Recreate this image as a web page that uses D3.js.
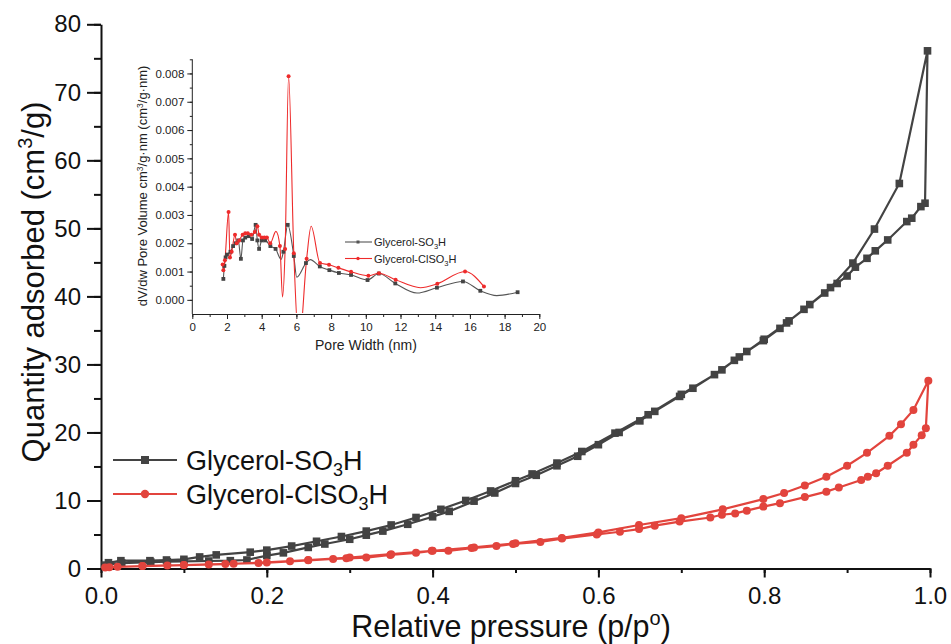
<!DOCTYPE html>
<html><head><meta charset="utf-8">
<script src="https://cdn.jsdelivr.net/npm/d3@7"></script>
<style>body{margin:0;background:#fff;} svg{display:block;font-family:"Liberation Sans",Arial,sans-serif;}</style>
</head><body>
<svg id="c" width="951" height="644"></svg>
<script>
// ---------- Main isotherm data ----------
const seriesNames = ["Glycerol-SO3H", "Glycerol-ClSO3H"];
const xTicksMain = [0.0, 0.2, 0.4, 0.6, 0.8, 1.0];
const yTicksMain = [0, 10, 20, 30, 40, 50, 60, 70, 80];

// Glycerol-SO3H: adsorption branch then desorption branch (p/p0, cm3/g)
const so3hP = [0.005,0.025,0.06,0.08,0.10,0.13,0.156,0.176,0.20,0.22,0.25,0.27,0.30,0.32,0.34,0.37,0.40,0.42,0.45,0.475,0.50,0.525,0.55,0.575,0.60,0.625,0.65,0.668,0.698,0.714,0.749,0.764,0.779,0.799,0.819,0.830,0.848,0.873,0.888,0.900,0.910,0.924,0.934,0.949,0.972,0.978,0.989,0.994,
  0.997,0.963,0.933,0.907,0.880,0.855,0.827,0.800,0.770,0.740,0.700,0.660,0.620,0.580,0.550,0.520,0.500,0.470,0.440,0.410,0.380,0.350,0.320,0.290,0.260,0.230,0.200,0.180,0.139,0.119,0.100,0.079,0.059,0.024,0.009];
const so3hQ = [0.5,0.8,0.95,1.0,1.05,1.1,1.15,1.25,1.9,2.3,3.1,3.6,4.3,4.9,5.5,6.5,7.6,8.4,9.9,11.1,12.5,13.7,15.1,16.5,18.2,20.0,21.7,23.1,25.3,26.5,29.2,30.6,31.9,33.5,35.3,36.4,38.1,40.5,41.9,43.0,44.3,45.6,46.7,48.3,51.0,51.5,53.2,53.7,
  76.1,56.6,49.9,44.9,41.3,38.8,36.1,33.7,31.1,28.5,25.6,22.6,19.9,17.2,15.5,13.9,12.9,11.4,10.0,8.7,7.5,6.4,5.5,4.7,4.0,3.3,2.7,2.4,2.0,1.7,1.35,1.25,1.15,1.15,0.85];

// Glycerol-ClSO3H
const clso3hP = [0.005,0.02,0.05,0.08,0.10,0.13,0.16,0.19,0.228,0.25,0.28,0.296,0.32,0.349,0.38,0.399,0.419,0.447,0.477,0.497,0.53,0.556,0.598,0.626,0.649,0.668,0.698,0.735,0.749,0.765,0.779,0.799,0.819,0.849,0.875,0.890,0.917,0.925,0.935,0.949,0.972,0.980,0.990,0.995,
  0.998,0.980,0.965,0.951,0.924,0.900,0.875,0.849,0.824,0.799,0.750,0.700,0.649,0.600,0.556,0.500,0.450,0.400,0.350,0.300,0.250,0.200,0.150,0.100,0.050,0.010];
const clso3hQ = [0.15,0.25,0.35,0.45,0.5,0.6,0.7,0.8,1.05,1.2,1.4,1.5,1.6,2.0,2.3,2.6,2.6,3.0,3.3,3.6,3.9,4.4,5.0,5.4,5.8,6.3,6.9,7.5,7.9,8.1,8.5,9.1,9.6,10.5,11.3,11.9,13.0,13.5,14.0,15.1,17.0,18.2,19.6,20.6,
  27.6,23.3,21.2,19.5,17.0,15.1,13.5,12.2,11.1,10.2,8.7,7.4,6.4,5.3,4.5,3.7,3.1,2.6,2.1,1.6,1.25,0.9,0.65,0.5,0.35,0.2];

// ---------- Inset pore-size distribution data ----------
const insetXTicks = [0,2,4,6,8,10,12,14,16,18,20];
const insetYTicks = [0.000,0.001,0.002,0.003,0.004,0.005,0.006,0.007,0.008];
// measured points (markers)
const psdSo3hW = [1.79,1.85,1.92,2.0,2.2,2.35,2.5,2.65,2.8,2.92,3.05,3.25,3.45,3.65,3.75,3.85,4.0,4.2,4.5,4.8,5.25,5.5,5.85,6.55,7.35,7.9,8.45,9.15,10.1,10.75,11.7,14.1,15.6,16.6,18.75];
const psdSo3hV = [0.00074,0.0012,0.0015,0.0016,0.0017,0.0019,0.0020,0.0021,0.00145,0.0021,0.0022,0.00225,0.00215,0.00265,0.0021,0.0018,0.0021,0.0021,0.0019,0.0018,0.0017,0.00265,0.00155,0.0013,0.00118,0.00105,0.00095,0.00088,0.0007,0.00093,0.00058,0.00043,0.00065,0.00032,0.00027];
const psdClW = [1.75,1.79,1.88,2.09,2.17,2.27,2.46,2.56,2.7,2.9,3.05,3.2,3.4,3.6,3.75,3.85,4.0,4.15,4.3,4.49,5.05,5.35,5.55,5.85,6.59,7.36,7.88,8.42,9.15,10.15,10.76,11.72,14.12,15.72,16.81];
const psdClV = [0.00125,0.00105,0.0014,0.0031,0.0015,0.0017,0.0023,0.0020,0.0021,0.0023,0.00235,0.00235,0.0023,0.0024,0.0026,0.0023,0.0022,0.0022,0.0022,0.0020,0.0019,0.0018,0.0079,0.00165,0.00145,0.0013,0.00124,0.00113,0.00099,0.00085,0.00094,0.00071,0.00057,0.0010,0.00047];
// turning points of the smoothed curves between markers
const psdSo3hTurnW = [5.12, 6.02, 6.8, 12.95, 17.55];
const psdSo3hTurnV = [0.00143, 0.0008, 0.00142, 0.00024, 0.00015];
const psdClTurnW = [4.82, 5.2, 6.15, 6.85, 13.15];
const psdClTurnV = [0.00242, 0.0001, -0.0016, 0.0026, 0.00043];

const colBlack = "#434343", colRed = "#e2443d";
const svg = d3.select("#c");
const FONT = "Liberation Sans, Arial, sans-serif";

// ===== Main chart =====
const x = d3.scaleLinear().domain([0,1]).range([101,930]);
const y = d3.scaleLinear().domain([0,80]).range([568.5,24.3]);

svg.append("g").attr("transform","translate(0,568.5)")
  .call(d3.axisBottom(x).tickValues(d3.range(0,1.0001,0.1)).tickSize(4.5).tickFormat(""))
  .call(g=>g.select(".domain").remove());
svg.append("g").attr("transform","translate(101,0)")
  .call(d3.axisLeft(y).tickValues(d3.range(0,80.1,5)).tickSize(7).tickFormat(""))
  .call(g=>g.select(".domain").remove());
const xa = svg.append("g").attr("transform","translate(0,568.5)")
  .call(d3.axisBottom(x).tickValues(xTicksMain).tickSize(9).tickSizeOuter(0).tickPadding(9).tickFormat(d3.format(".1f")));
const ya = svg.append("g").attr("transform","translate(101,0)")
  .call(d3.axisLeft(y).tickValues(yTicksMain).tickSize(14).tickSizeOuter(0).tickPadding(6));
[xa,ya].forEach(a=>{
  a.selectAll("path,line").attr("stroke","#111").attr("stroke-width",2);
  a.selectAll("text").attr("fill","#111").attr("font-family",FONT);
});
xa.selectAll("text").attr("font-size",24);
ya.selectAll("text").attr("font-size",24);
svg.selectAll("g.tick line").attr("stroke","#111").attr("stroke-width",2);

const lineMain = d3.line().x(d=>x(d[0])).y(d=>y(d[1]));
const s1 = so3hP.map((p,i)=>[p,so3hQ[i]]);
const s2 = clso3hP.map((p,i)=>[p,clso3hQ[i]]);

svg.append("path").datum(s1).attr("d",lineMain).attr("fill","none").attr("stroke",colBlack).attr("stroke-width",2.2);
svg.append("g").selectAll("rect").data(s1).join("rect")
  .attr("x",d=>x(d[0])-3.8).attr("y",d=>y(d[1])-3.8).attr("width",7.6).attr("height",7.6).attr("fill",colBlack);
svg.append("path").datum(s2).attr("d",lineMain).attr("fill","none").attr("stroke",colRed).attr("stroke-width",2.2);
svg.append("g").selectAll("circle").data(s2).join("circle")
  .attr("cx",d=>x(d[0])).attr("cy",d=>y(d[1])).attr("r",4).attr("fill",colRed);

// axis titles
const yt = svg.append("text").attr("transform","translate(44,282) rotate(-90)").attr("text-anchor","middle")
  .attr("font-size",31).attr("fill","#111");
yt.append("tspan").text("Quantity adsorbed (cm");
yt.append("tspan").text("3").attr("font-size",20).attr("dy",-12);
yt.append("tspan").text("/g)").attr("dy",12);
const xt = svg.append("text").attr("x",511).attr("y",637).attr("text-anchor","middle").attr("font-size",30.5).attr("fill","#111");
xt.append("tspan").text("Relative pressure (p/p");
xt.append("tspan").text("o").attr("font-size",20).attr("dy",-12);
xt.append("tspan").text(")").attr("dy",12);

// legend
const leg = [{name:seriesNames[0],c:colBlack,sym:"sq",y:460},{name:seriesNames[1],c:colRed,sym:"ci",y:494}];
leg.forEach(l=>{
  svg.append("line").attr("x1",113).attr("x2",177).attr("y1",l.y).attr("y2",l.y).attr("stroke",l.c).attr("stroke-width",2.2);
  if(l.sym==="sq") svg.append("rect").attr("x",141).attr("y",l.y-4).attr("width",8).attr("height",8).attr("fill",l.c);
  else svg.append("circle").attr("cx",145).attr("cy",l.y).attr("r",4.2).attr("fill",l.c);
  const t = svg.append("text").attr("x",186).attr("y",l.y+10).attr("font-size",27).attr("fill","#111");
  t.append("tspan").text(l.name.replace("3H",""));
  t.append("tspan").text("3").attr("font-size",18).attr("dy",6);
  t.append("tspan").text("H").attr("dy",-6);
});

// ===== Inset =====
const ix = d3.scaleLinear().domain([0,20]).range([192.3,539.3]);
const iy = d3.scaleLinear().domain([-0.0005,0.0085]).range([314,59.3]);
const inset = svg.append("g");
inset.append("clipPath").attr("id","ic").append("rect").attr("x",192.3).attr("y",40).attr("width",360).attr("height",273);
inset.append("g").attr("transform","translate(0,314)")
  .call(d3.axisBottom(ix).tickValues(d3.range(0,20.01,1)).tickSize(3).tickFormat(""))
  .call(g=>g.select(".domain").remove());
inset.append("g").attr("transform","translate(192.3,0)")
  .call(d3.axisLeft(iy).tickValues(d3.range(0,0.00851,0.0005)).tickSize(2.5).tickFormat(""))
  .call(g=>g.select(".domain").remove());
const ixa = inset.append("g").attr("transform","translate(0,314)")
  .call(d3.axisBottom(ix).tickValues(insetXTicks).tickSize(5).tickSizeOuter(0).tickPadding(4));
const iya = inset.append("g").attr("transform","translate(192.3,0)")
  .call(d3.axisLeft(iy).tickValues(insetYTicks).tickSize(5).tickSizeOuter(0).tickPadding(3).tickFormat(d3.format(".3f")));
iya.select(".domain").attr("d","M-0,314V59.3");
[ixa,iya].forEach(a=>{
  a.selectAll("path,line").attr("stroke","#222").attr("stroke-width",1);
  a.selectAll("text").attr("font-size",11.5).attr("fill","#222").attr("font-family",FONT);
});
inset.selectAll("g.tick line").attr("stroke","#222");

const lineIn = d3.line().curve(d3.curveMonotoneX).x(d=>ix(d[0])).y(d=>iy(d[1]));
const p1 = psdSo3hW.map((w,i)=>[w,psdSo3hV[i]]);
const p2 = psdClW.map((w,i)=>[w,psdClV[i]]);
const c1 = p1.concat(psdSo3hTurnW.map((w,i)=>[w,psdSo3hTurnV[i]])).sort((a,b)=>a[0]-b[0]);
const c2 = p2.concat(psdClTurnW.map((w,i)=>[w,psdClTurnV[i]])).sort((a,b)=>a[0]-b[0]);
const plot = inset.append("g").attr("clip-path","url(#ic)");
plot.append("path").datum(c1).attr("d",lineIn).attr("fill","none").attr("stroke","#555").attr("stroke-width",1.1);
plot.append("path").datum(c2).attr("d",lineIn).attr("fill","none").attr("stroke","#ee2b2b").attr("stroke-width",1.1);
plot.append("g").selectAll("rect").data(p1).join("rect")
  .attr("x",d=>ix(d[0])-1.9).attr("y",d=>iy(d[1])-1.9).attr("width",3.8).attr("height",3.8).attr("fill","#444");
plot.append("g").selectAll("circle").data(p2).join("circle")
  .attr("cx",d=>ix(d[0])).attr("cy",d=>iy(d[1])).attr("r",2).attr("fill","#ee2b2b");

// inset titles
const iyt = inset.append("text").attr("transform","translate(147,186) rotate(-90)").attr("text-anchor","middle")
  .attr("font-size",13).attr("fill","#222");
iyt.append("tspan").text("dV/dw Pore Volume cm");
iyt.append("tspan").text("3").attr("font-size",8.5).attr("dy",-4);
iyt.append("tspan").text("/g·nm (cm").attr("dy",4);
iyt.append("tspan").text("3").attr("font-size",8.5).attr("dy",-4);
iyt.append("tspan").text("/g·nm)").attr("dy",4);
inset.append("text").attr("x",366).attr("y",350).attr("text-anchor","middle").attr("font-size",14).attr("fill","#222").text("Pore Width (nm)");

// inset legend
const ileg = [{name:seriesNames[0],c:"#555",sym:"sq",y:242},{name:seriesNames[1],c:"#ee2b2b",sym:"ci",y:258.5}];
ileg.forEach(l=>{
  inset.append("line").attr("x1",345).attr("x2",372).attr("y1",l.y).attr("y2",l.y).attr("stroke",l.c).attr("stroke-width",1.1);
  if(l.sym==="sq") inset.append("rect").attr("x",356.5).attr("y",l.y-1.5).attr("width",3).attr("height",3).attr("fill",l.c);
  else inset.append("circle").attr("cx",358).attr("cy",l.y).attr("r",1.7).attr("fill",l.c);
  const t = inset.append("text").attr("x",374).attr("y",l.y+4).attr("font-size",11).attr("fill","#222");
  t.append("tspan").text(l.name.replace("3H",""));
  t.append("tspan").text("3").attr("font-size",7.5).attr("dy",3);
  t.append("tspan").text("H").attr("dy",-3);
});
</script>
</body></html>
